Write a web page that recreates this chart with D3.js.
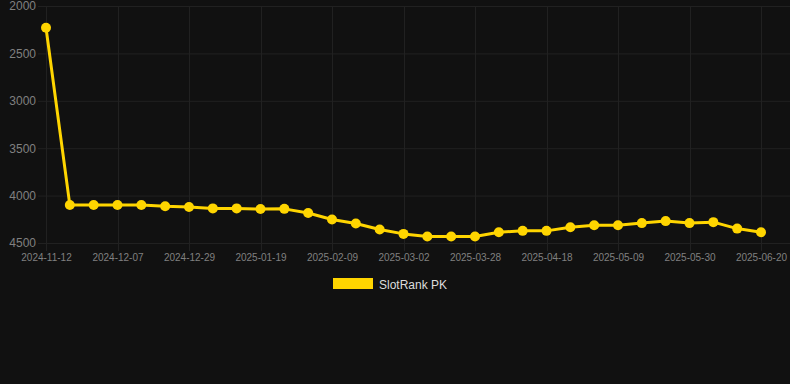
<!DOCTYPE html>
<html>
<head>
<meta charset="utf-8">
<script src="https://cdn.jsdelivr.net/npm/d3@7"></script>
<style>
  html, body { margin: 0; padding: 0; background: #111111; }
  svg { display: block; }
</style>
</head>
<body>
<svg id="chart" width="790" height="384"></svg>
<script>
const dates = [
  "2024-11-12","2024-11-23","2024-11-30","2024-12-07","2024-12-14","2024-12-21",
  "2024-12-29","2025-01-05","2025-01-12","2025-01-19","2025-01-26","2025-02-02",
  "2025-02-09","2025-02-16","2025-02-23","2025-03-02","2025-03-09","2025-03-21",
  "2025-03-28","2025-04-04","2025-04-11","2025-04-18","2025-04-25","2025-05-02",
  "2025-05-09","2025-05-16","2025-05-23","2025-05-30","2025-06-06","2025-06-13",
  "2025-06-20"
];
const rankValues = [
  2229, 4100, 4100, 4100, 4100, 4113,
  4120, 4135, 4135, 4142, 4140, 4184,
  4252, 4294, 4358, 4404, 4432, 4432,
  4432, 4386, 4372, 4372, 4333, 4312,
  4312, 4290, 4269, 4290, 4280, 4348,
  4386
];
const yTicks = [2000, 2500, 3000, 3500, 4000, 4500];
const seriesName = "SlotRank PK";

const svg = d3.select("#chart");
const plot = { left: 38, right: 790, top: 6, bottom: 243 };
const firstX = 46, lastX = 761;

const x = d3.scalePoint().domain(dates).range([firstX, lastX]);
const y = d3.scaleLinear().domain([2000, 4500]).range([plot.top, plot.bottom]);

const gridColor = "#212121";
const textColor = "#808080";
const gold = "#FFD500";
const font = "'Liberation Sans', Arial, Helvetica, sans-serif";

// horizontal grid + y labels
const yAxis = d3.axisLeft(y).tickValues(yTicks).tickFormat(d3.format("d")).tickSize(0).tickPadding(2);
const gy = svg.append("g").attr("transform", `translate(${plot.left},0)`).call(yAxis);
gy.select(".domain").remove();
gy.selectAll("text").attr("fill", textColor).attr("font-size", 12).attr("font-family", font);
svg.append("g").selectAll("line").data(yTicks).join("line")
  .attr("x1", plot.left).attr("x2", plot.right)
  .attr("y1", d => y(d) + 0.5).attr("y2", d => y(d) + 0.5)
  .attr("stroke", gridColor).attr("stroke-width", 1);

// vertical grid + x labels (every third label)
const xLabels = dates.filter((d, i) => i % 3 === 0);
svg.append("g").selectAll("line").data(xLabels).join("line")
  .attr("x1", d => Math.round(x(d)) + 0.5).attr("x2", d => Math.round(x(d)) + 0.5)
  .attr("y1", plot.top).attr("y2", plot.bottom + 8)
  .attr("stroke", gridColor).attr("stroke-width", 1);
const xAxis = d3.axisBottom(x).tickValues(xLabels).tickSize(0).tickPadding(11);
const gx = svg.append("g").attr("transform", `translate(0,${plot.bottom})`).call(xAxis);
gx.select(".domain").remove();
gx.selectAll("text").attr("fill", textColor).attr("font-size", 10).attr("font-family", font);

// line
const line = d3.line().x((d, i) => x(dates[i])).y(d => y(d));
svg.append("path").datum(rankValues)
  .attr("d", line).attr("fill", "none")
  .attr("stroke", gold).attr("stroke-width", 3).attr("stroke-linejoin", "round");

svg.append("g").selectAll("circle").data(rankValues).join("circle")
  .attr("cx", (d, i) => x(dates[i])).attr("cy", d => y(d)).attr("r", 5)
  .attr("fill", gold);

// legend
const lg = svg.append("g");
lg.append("rect").attr("x", 333).attr("y", 278).attr("width", 40).attr("height", 11).attr("fill", gold);
lg.append("text").attr("x", 379).attr("y", 288.5).text(seriesName)
  .attr("fill", "#dddddd").attr("font-size", 12).attr("font-family", font);
</script>
</body>
</html>
